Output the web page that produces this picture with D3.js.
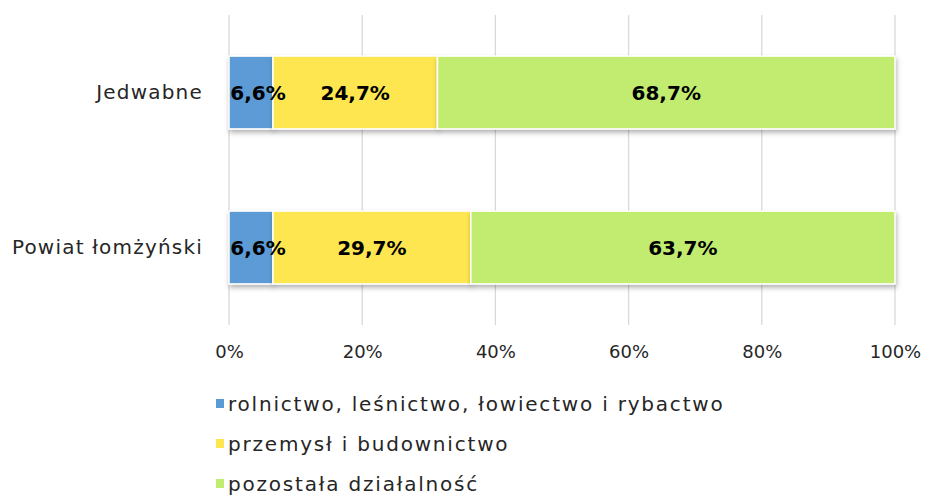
<!DOCTYPE html>
<html><head><meta charset="utf-8">
<script src="https://cdn.jsdelivr.net/npm/d3@7"></script>
<style>body{margin:0;background:#fff}svg{display:block}text{font-family:"DejaVu Sans",sans-serif}</style>
</head><body><svg id="c" width="928" height="495"></svg>
<script>
const categories = ["Jedwabne", "Powiat łomżyński"];
const seriesNames = ["rolnictwo, leśnictwo, łowiectwo i rybactwo", "przemysł i budownictwo", "pozostała działalność"];
const seriesColors = ["#5B9BD5", "#FDE64F", "#C2EC70"];
const rolnictwo = [6.6, 6.6];
const przemysl = [24.7, 29.7];
const pozostala = [68.7, 63.7];
const tickValues = [0, 20, 40, 60, 80, 100];

const values = [rolnictwo, przemysl, pozostala];
const svg = d3.select("#c");
const x = d3.scaleLinear().domain([0, 100]).range([229, 895]);
const y = d3.scaleBand().domain(categories).range([15, 325]).paddingInner(0.53).paddingOuter(0.265);

const defs = svg.append("defs");
const f = defs.append("filter").attr("id","sh").attr("x","-10%").attr("y","-20%").attr("width","130%").attr("height","150%");
f.append("feDropShadow").attr("dx",1).attr("dy",3).attr("stdDeviation",2.5).attr("flood-color","#000").attr("flood-opacity",0.3);

// gridlines
svg.append("g").selectAll("line").data(tickValues).join("line")
  .attr("x1", d => x(d)).attr("x2", d => x(d)).attr("y1", 15).attr("y2", 325)
  .attr("stroke", "#d9d9d9").attr("stroke-width", 1.3);

// axis labels
const xAxis = d3.axisBottom(x).tickValues(tickValues).tickFormat(d => d + "%").tickSize(0);
const ax = svg.append("g").attr("transform", "translate(0,339)").call(xAxis);
ax.select(".domain").remove();
ax.selectAll("text").attr("font-size", 18).attr("fill", "#262626").attr("dy", "0.9em");

// category labels
const yAxis = d3.axisLeft(y).tickSize(0);
const ay = svg.append("g").attr("transform", "translate(206,0)").call(yAxis);
ay.select(".domain").remove();
ay.selectAll("text").attr("font-size", 20).attr("letter-spacing", 1.2).attr("fill", "#262626");

// bars
categories.forEach((cat, i) => {
  let acc = 0;
  const g = svg.append("g");
  values.forEach((s, j) => {
    const v = s[i];
    g.append("rect").attr("x", x(acc)).attr("y", y(cat)).attr("width", x(acc + v) - x(acc)).attr("height", y.bandwidth())
      .attr("fill", seriesColors[j]).attr("stroke", "#fff").attr("stroke-width", 1.5).attr("filter", "url(#sh)");
    acc += v;
  });
  acc = 0;
  values.forEach((s, j) => {
    const v = s[i];
    g.append("text").attr("x", x(acc + v / 2) + (j === 0 ? 7 : 0)).attr("y", y(cat) + y.bandwidth() / 2)
      .attr("text-anchor", "middle").attr("dominant-baseline", "central")
      .attr("font-size", 20).attr("font-weight", "bold").attr("fill", "#000")
      .text(v.toFixed(1).replace(".", ",") + "%");
    acc += v;
  });
});

// legend
const lg = svg.append("g");
seriesNames.forEach((n, j) => {
  const cy = 404 + j * 40;
  lg.append("rect").attr("x", 216).attr("y", cy - 5).attr("width", 8).attr("height", 9).attr("fill", seriesColors[j]);
  lg.append("text").attr("x", 228).attr("y", cy).attr("dominant-baseline", "central").attr("font-size", 20)
    .attr("letter-spacing", 1.8).attr("fill", "#262626").text(n);
});
</script></body></html>
